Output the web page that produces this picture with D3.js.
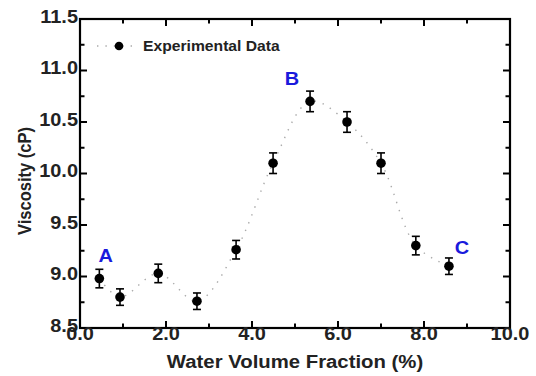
<!DOCTYPE html>
<html>
<head>
<meta charset="utf-8">
<script src="https://cdn.jsdelivr.net/npm/d3@7"></script>
<style>
  body { margin: 0; background: #fff; }
  svg text { font-family: "Liberation Sans", Arial, sans-serif; font-weight: bold; }
</style>
</head>
<body>
<svg id="chart" width="536" height="376"></svg>
<script>
// data
const fraction = [0.45, 0.93, 1.82, 2.72, 3.63, 4.49, 5.35, 6.21, 7.0, 7.81, 8.58];
const viscosity = [8.98, 8.8, 9.03, 8.76, 9.26, 10.1, 10.7, 10.5, 10.1, 9.3, 9.1];
const errors = [0.09, 0.08, 0.09, 0.08, 0.09, 0.1, 0.1, 0.1, 0.1, 0.09, 0.08];
const xTicks = [0, 2, 4, 6, 8, 10];
const yTicks = [8.5, 9.0, 9.5, 10.0, 10.5, 11.0, 11.5];
const pointLabels = [
  { name: "A", x: 0.6, y: 9.14 },
  { name: "B", x: 4.93, y: 10.86 },
  { name: "C", x: 8.88, y: 9.22 }
];

const margin = { left: 80, right: 26, top: 19, bottom: 48 };
const width = 536, height = 376;
// the original figure is a little stretched sideways
const stretch = 1.14;

let svg = d3.select("#chart");

let x = d3.scaleLinear().domain([0, 10]).range([margin.left, width - margin.right]);
let y = d3.scaleLinear().domain([8.5, 11.5]).range([height - margin.bottom, margin.top]);

let points = fraction.map((f, i) => ({ x: f, y: viscosity[i], e: errors[i] }));

// dotted guide line through the points
let line = d3.line()
  .x(d => x(d.x))
  .y(d => y(d.y))
  .curve(d3.curveCatmullRom.alpha(0.5));

svg.append("path")
  .datum(points)
  .attr("d", line)
  .attr("fill", "none")
  .attr("stroke", "#aaa")
  .attr("stroke-width", 1.4)
  .attr("stroke-dasharray", "1.4,7");

// error bars
let eb = svg.append("g").attr("stroke", "#000").attr("stroke-width", 1.6);
points.forEach(function (d) {
  eb.append("line")
    .attr("x1", x(d.x)).attr("x2", x(d.x))
    .attr("y1", y(d.y - d.e)).attr("y2", y(d.y + d.e));
  [d.y - d.e, d.y + d.e].forEach(function (v) {
    eb.append("line")
      .attr("x1", x(d.x) - 4).attr("x2", x(d.x) + 4)
      .attr("y1", y(v)).attr("y2", y(v));
  });
});

svg.append("g")
  .selectAll("circle")
  .data(points)
  .join("circle")
  .attr("cx", d => x(d.x))
  .attr("cy", d => y(d.y))
  .attr("r", 4.8)
  .attr("fill", "#000");

// axes, ticks pointing inward
const x0 = margin.left, x1 = width - margin.right;
const y0 = height - margin.bottom, y1 = margin.top;

let axes = svg.append("g").attr("stroke", "#000");
axes.append("rect")
  .attr("x", x0).attr("y", y1)
  .attr("width", x1 - x0).attr("height", y0 - y1)
  .attr("fill", "none").attr("stroke-width", 2.2);

d3.range(0, 10.01, 1).forEach(function (v) {
  let len = v % 2 === 0 ? 7 : 4.5;
  axes.append("line").attr("x1", x(v)).attr("x2", x(v))
    .attr("y1", y0).attr("y2", y0 - len).attr("stroke-width", 2);
  axes.append("line").attr("x1", x(v)).attr("x2", x(v))
    .attr("y1", y1).attr("y2", y1 + len).attr("stroke-width", 2);
});
d3.range(8.5, 11.51, 0.25).forEach(function (v) {
  let len = Math.abs(v * 2 - Math.round(v * 2)) < 0.01 ? 7 : 4.5;
  axes.append("line").attr("y1", y(v)).attr("y2", y(v))
    .attr("x1", x0).attr("x2", x0 + len).attr("stroke-width", 2);
  axes.append("line").attr("y1", y(v)).attr("y2", y(v))
    .attr("x1", x1).attr("x2", x1 - len).attr("stroke-width", 2);
});

// tick labels
svg.append("g").selectAll("text")
  .data(xTicks)
  .join("text")
  .attr("transform", d => `translate(${x(d)},${y0 + 12}) scale(${stretch},1)`)
  .attr("text-anchor", "middle")
  .attr("font-size", 17.5)
  .attr("fill", "#222")
  .text(d => d.toFixed(1));

svg.append("g").selectAll("text")
  .data(yTicks)
  .join("text")
  .attr("transform", d => `translate(${x0 - 2},${y(d) + 3.5}) scale(${stretch},1)`)
  .attr("text-anchor", "end")
  .attr("font-size", 17.5)
  .attr("fill", "#222")
  .text(d => d.toFixed(1));

// axis titles
svg.append("text")
  .attr("transform", `translate(${(x0 + x1) / 2},368) scale(1.13,1)`)
  .attr("text-anchor", "middle")
  .attr("font-size", 18)
  .attr("fill", "#222")
  .text("Water Volume Fraction (%)");

svg.append("text")
  .attr("transform", `translate(31,181) scale(${stretch},1) rotate(-90)`)
  .attr("text-anchor", "middle")
  .attr("font-size", 16.5)
  .attr("fill", "#222")
  .text("Viscosity (cP)");

// A, B, C labels
svg.append("g").selectAll("text")
  .data(pointLabels)
  .join("text")
  .attr("transform", d => `translate(${x(d.x)},${y(d.y)}) scale(1.05,1)`)
  .attr("text-anchor", "middle")
  .attr("font-size", 19)
  .attr("fill", "#1a1adc")
  .text(d => d.name);

// legend
let legend = svg.append("g").attr("transform", "translate(97,46)");
legend.append("line")
  .attr("x1", 0).attr("x2", 41)
  .attr("stroke", "#aaa").attr("stroke-width", 1.4)
  .attr("stroke-dasharray", "1.4,7");
legend.append("circle").attr("cx", 22).attr("r", 4.3).attr("fill", "#000");
legend.append("text")
  .attr("transform", "translate(46,5) scale(1.12,1)")
  .attr("font-size", 14)
  .attr("fill", "#222")
  .text("Experimental Data");
</script>
</body>
</html>
